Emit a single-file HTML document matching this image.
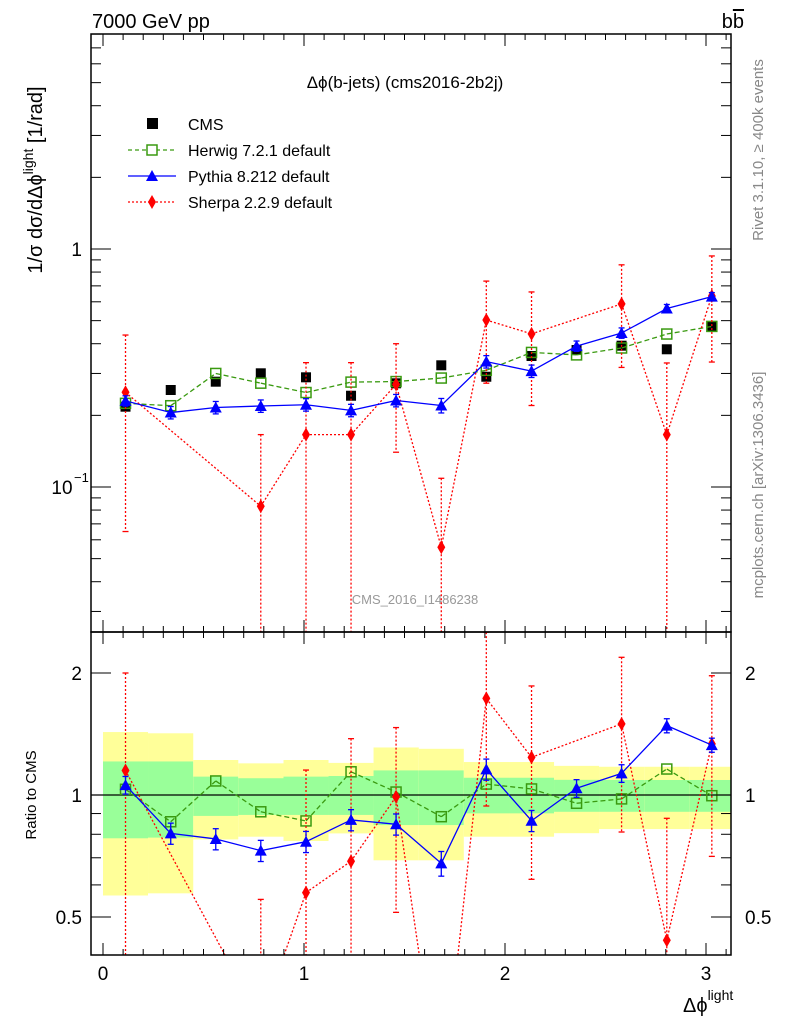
<!DOCTYPE html>
<html><head><meta charset="utf-8"><style>
html,body{margin:0;padding:0;background:#fff;width:786px;height:1024px;overflow:hidden}
svg{display:block;font-family:"Liberation Sans",sans-serif}
</style></head><body>
<svg id="c" width="786" height="1024" xmlns="http://www.w3.org/2000/svg">
<text x="92" y="28" font-size="20">7000 GeV pp</text>
<text x="744" y="28" font-size="20" text-anchor="end">b<tspan text-decoration="overline">b</tspan></text>
<text x="405" y="88" font-size="17" text-anchor="middle">Δϕ(b-jets) (cms2016-2b2j)</text>
<text x="415" y="604" font-size="13" fill="#999" text-anchor="middle">CMS_2016_I1486238</text>
<text transform="translate(763,150) rotate(-90)" font-size="15" fill="#888" text-anchor="middle">Rivet 3.1.10, ≥ 400k events</text>
<text transform="translate(763,485) rotate(-90)" font-size="15" fill="#888" text-anchor="middle">mcplots.cern.ch [arXiv:1306.3436]</text>
<text transform="translate(42,180) rotate(-90)" font-size="20" text-anchor="middle">1/σ dσ/dΔϕ<tspan dy="-9" font-size="14">light</tspan><tspan dy="9"> [1/rad]</tspan></text>
<text transform="translate(36,795) rotate(-90)" font-size="15" text-anchor="middle">Ratio to CMS</text>
<text x="683" y="1012" font-size="20">Δϕ<tspan dy="-12" font-size="14">light</tspan></text>
<g id="legend">
<rect x="147" y="118" width="11" height="11" fill="#000"/>
<text x="188" y="130" font-size="16">CMS</text>
<line x1="128" y1="150" x2="176" y2="150" stroke="#3a9a10" stroke-width="1.3" stroke-dasharray="4,3"/>
<rect x="147" y="145" width="10" height="10" fill="#fff" stroke="#3a9a10" stroke-width="1.5"/>
<text x="188" y="156" font-size="16">Herwig 7.2.1 default</text>
<line x1="128" y1="176" x2="176" y2="176" stroke="#0000ff" stroke-width="1.3"/>
<path d="M152,170 L158,181 L146,181 Z" fill="#0000ff"/>
<text x="188" y="182" font-size="16">Pythia 8.212 default</text>
<line x1="128" y1="202" x2="176" y2="202" stroke="#ff0000" stroke-width="1.3" stroke-dasharray="2,2"/>
<path d="M152,195 L156,202 L152,209 L148,202 Z" fill="#ff0000"/>
<text x="188" y="208" font-size="16">Sherpa 2.2.9 default</text>
</g>
<g id="plot"></g>
</svg>
<script>
const binCenters=[0.112,0.337,0.561,0.785,1.01,1.234,1.458,1.683,1.907,2.132,2.356,2.58,2.805,3.029];
const binEdgesX=[0,0.224,0.449,0.673,0.898,1.122,1.346,1.571,1.795,2.02,2.244,2.468,2.693,2.917,3.1416];
const cmsValues=[0.2175,0.2556,0.277,0.3004,0.289,0.2418,0.2727,0.3246,0.2906,0.3552,0.3763,0.3924,0.379,0.4748];
const herwigRatio=[1.033,0.859,1.083,0.909,0.863,1.141,1.017,0.884,1.064,1.035,0.954,0.978,1.159,0.996];
const pythiaRatio=[1.058,0.804,0.779,0.729,0.767,0.868,0.847,0.678,1.157,0.864,1.039,1.131,1.483,1.328];
const pythiaRelErr=[0.05,0.06,0.06,0.06,0.06,0.06,0.06,0.07,0.06,0.06,0.05,0.05,0.04,0.04];
const sherpaValues=[0.25,null,null,0.083,0.166,0.166,0.27,0.0558,0.503,0.44,null,0.588,0.166,0.635];
const sherpaErr=[0.185,null,null,0.083,0.167,0.167,0.13,0.053,0.23,0.22,null,0.27,0.166,0.30];
const yellowHi=[1.43,1.42,1.22,1.197,1.22,1.2,1.31,1.30,1.206,1.206,1.18,1.174,1.174,1.174];
const yellowLo=[0.565,0.572,0.777,0.789,0.77,0.804,0.69,0.69,0.789,0.789,0.805,0.824,0.824,0.824];
const greenHi=[1.21,1.21,1.11,1.10,1.11,1.114,1.15,1.15,1.103,1.103,1.09,1.089,1.089,1.089];
const greenLo=[0.782,0.785,0.888,0.893,0.893,0.893,0.843,0.843,0.901,0.901,0.909,0.909,0.909,0.909];
const xTicks=[0,1,2,3];
const mainYTickLabels=["1","10"];
const ratioYTicks=[0.5,1,2];

const NS="http://www.w3.org/2000/svg";
const g=document.getElementById('plot');
const L=91,R=731,T=34,MB=632,RB=955;
const X=v=>103+201*v;
const YM=v=>249-238*Math.log10(v);
const YR=v=>795-122*Math.log2(v);
function el(t,a,p){const e=document.createElementNS(NS,t);for(const k in a)e.setAttribute(k,a[k]);(p||g).appendChild(e);return e;}
const gm=el('g',{});gm.bounds=[T,MB];
const gr=el('g',{});gr.bounds=[MB,RB];

for(let i=0;i<14;i++){
  const x1=X(binEdgesX[i]),x2=Math.min(X(binEdgesX[i+1]),R);
  const y=el('rect',{x:x1,y:YR(yellowHi[i]),width:x2-x1,height:YR(yellowLo[i])-YR(yellowHi[i]),fill:'#ffff99'},gr);
  
  
  const gb=el('rect',{x:x1,y:YR(greenHi[i]),width:x2-x1,height:YR(greenLo[i])-YR(greenHi[i]),fill:'#99ff99'},gr);
  
  
}
el('line',{x1:L,x2:R,y1:YR(1),y2:YR(1),stroke:'#000','stroke-width':1.2},gr);

function clipSeg(a,b,lo,hi){
  let [x1,y1]=a,[x2,y2]=b;
  if((y1<lo&&y2<lo)||(y1>hi&&y2>hi))return null;
  const f=(y)=>x1+(x2-x1)*(y-y1)/(y2-y1);
  if(y1>hi){x1=f(hi);y1=hi;} else if(y1<lo){x1=f(lo);y1=lo;}
  if(y2>hi){x2=f(hi);y2=hi;} else if(y2<lo){x2=f(lo);y2=lo;}
  return [x1,y1,x2,y2];
}
function poly(pts,color,dash,parent,name){
  const cur=pts.filter(p=>p);
  const [lo,hi]=parent.bounds;
  let d='';
  for(let i=0;i<cur.length-1;i++){const s=clipSeg(cur[i],cur[i+1],lo,hi);if(s)d+=`M${s[0]},${s[1]} L${s[2]},${s[3]} `;}
  const pl=el('path',{d:d,fill:'none',stroke:color,'stroke-width':1.3},parent);
  if(dash)pl.setAttribute('stroke-dasharray',dash);
  
  
}
function square(x,y,fill,stroke,parent,name){
  const r=el('rect',{x:x-5,y:y-5,width:10,height:10,fill:fill,stroke:stroke||'none','stroke-width':1.5},parent);
  
  
}
function tri(x,y,parent,name){
  const p=el('path',{d:`M${x},${y-6} L${x+6},${y+5} L${x-6},${y+5} Z`,fill:'#0000ff'},parent);
  
  
}
function diam(x,y,parent,name){
  if(y<parent.bounds[0]||y>parent.bounds[1])return;
  const p=el('path',{d:`M${x},${y-7} L${x+4},${y} L${x},${y+7} L${x-4},${y} Z`,fill:'#ff0000'},parent);
  
  
}
function err(x,y1,y2,color,dash,parent){
  const [lo,hi]=parent.bounds;
  const c1=Math.max(lo,Math.min(hi,y1)),c2=Math.max(lo,Math.min(hi,y2));
  const l=el('line',{x1:x,x2:x,y1:c1,y2:c2,stroke:color,'stroke-width':1.3},parent);
  if(dash)l.setAttribute('stroke-dasharray',dash);
  if(y1>=lo&&y1<=hi)el('line',{x1:x-3,x2:x+3,y1:y1,y2:y1,stroke:color,'stroke-width':1.3},parent);
  if(y2>=lo&&y2<=hi)el('line',{x1:x-3,x2:x+3,y1:y2,y2:y2,stroke:color,'stroke-width':1.3},parent);
}
const lg=v=>v>0?v:1e-6;
const herwigMain=cmsValues.map((c,i)=>c*herwigRatio[i]);
const pythiaMain=cmsValues.map((c,i)=>c*pythiaRatio[i]);
binCenters.forEach((b,i)=>square(X(b),YM(cmsValues[i]),'#000',null,gm,'cms-point'));
poly(binCenters.map((b,i)=>[X(b),YM(herwigMain[i])]),'#3a9a10','5,3',gm,'herwig-line');
binCenters.forEach((b,i)=>square(X(b),YM(herwigMain[i]),'none','#3a9a10',gm,'herwig-point'));
poly(binCenters.map((b,i)=>sherpaValues[i]==null?null:[X(b),YM(sherpaValues[i])]),'#ff0000','2,2',gm,'sherpa-line');
binCenters.forEach((b,i)=>{if(sherpaValues[i]==null)return;const v=sherpaValues[i],e=sherpaErr[i];
  err(X(b),YM(v+e),YM(lg(v-e)),'#ff0000','2,2',gm);diam(X(b),YM(v),gm,'sherpa-point');});
poly(binCenters.map((b,i)=>[X(b),YM(pythiaMain[i])]),'#0000ff',null,gm,'pythia-line');
binCenters.forEach((b,i)=>{const v=pythiaMain[i],e=v*pythiaRelErr[i];err(X(b),YM(v+e),YM(v-e),'#0000ff',null,gm);tri(X(b),YM(v),gm,'pythia-point');});

poly(binCenters.map((b,i)=>[X(b),YR(herwigRatio[i])]),'#3a9a10','5,3',gr,'herwig-ratio-line');
binCenters.forEach((b,i)=>square(X(b),YR(herwigRatio[i]),'none','#3a9a10',gr,'herwig-ratio-point'));
const sherpaRatio=sherpaValues.map((v,i)=>v==null?null:v/cmsValues[i]);
poly(binCenters.map((b,i)=>sherpaRatio[i]==null?null:[X(b),YR(sherpaRatio[i])]),'#ff0000','2,2',gr,'sherpa-ratio-line');
binCenters.forEach((b,i)=>{if(sherpaRatio[i]==null)return;const r=sherpaRatio[i],e=sherpaErr[i]/cmsValues[i];
  err(X(b),YR(r+e),YR(lg(r-e)),'#ff0000','2,2',gr);diam(X(b),YR(r),gr,'sherpa-ratio-point');});
poly(binCenters.map((b,i)=>[X(b),YR(pythiaRatio[i])]),'#0000ff',null,gr,'pythia-ratio-line');
binCenters.forEach((b,i)=>{const r=pythiaRatio[i],e=r*pythiaRelErr[i];err(X(b),YR(r+e),YR(r-e),'#0000ff',null,gr);tri(X(b),YR(r),gr,'pythia-ratio-point');});

const f1=el('rect',{x:L,y:T,width:R-L,height:MB-T,fill:'none',stroke:'#000','stroke-width':1.5});


const f2=el('rect',{x:L,y:MB,width:R-L,height:RB-MB,fill:'none',stroke:'#000','stroke-width':1.5});


for(let k=0;k<=31;k++){const v=k/10,x=X(v),len=(k%10===0)?12:6;
  [[T,1],[MB,-1],[MB,1],[RB,-1]].forEach(([y,d])=>el('line',{x1:x,x2:x,y1:y,y2:y+d*len,stroke:'#000','stroke-width':1}));}
xTicks.forEach(v=>{const t=el('text',{x:X(v),y:980,'font-size':19,'text-anchor':'middle'});t.textContent=v;
  
  });
for(let e=-2;e<=0;e++)for(let m=1;m<=9;m++){const v=m*Math.pow(10,e);const y=YM(v);if(y<T||y>MB)continue;const len=m===1?20:10;
  el('line',{x1:L,x2:L+len,y1:y,y2:y,stroke:'#000'});el('line',{x1:R,x2:R-len,y1:y,y2:y,stroke:'#000'});}
const t1=el('text',{x:82,y:256,'font-size':19,'text-anchor':'end'});t1.textContent=mainYTickLabels[0];


const t2=el('text',{x:62,y:494,'font-size':19,'text-anchor':'middle'});t2.textContent=mainYTickLabels[1];


const t3=el('text',{x:74,y:482,'font-size':13});t3.textContent='−1';
[0.5,0.6,0.7,0.8,0.9,1,2].forEach(v=>{const y=YR(v),len=(v===0.5||v===1||v===2)?20:10;
  el('line',{x1:L,x2:L+len,y1:y,y2:y,stroke:'#000'});el('line',{x1:R,x2:R-len,y1:y,y2:y,stroke:'#000'});});
ratioYTicks.forEach(v=>{[[82,'end'],[745,'start']].forEach(([x,a])=>{const t=el('text',{x:x,y:YR(v)+7,'font-size':19,'text-anchor':a});t.textContent=v;
  
  });});
</script>
</body></html>
